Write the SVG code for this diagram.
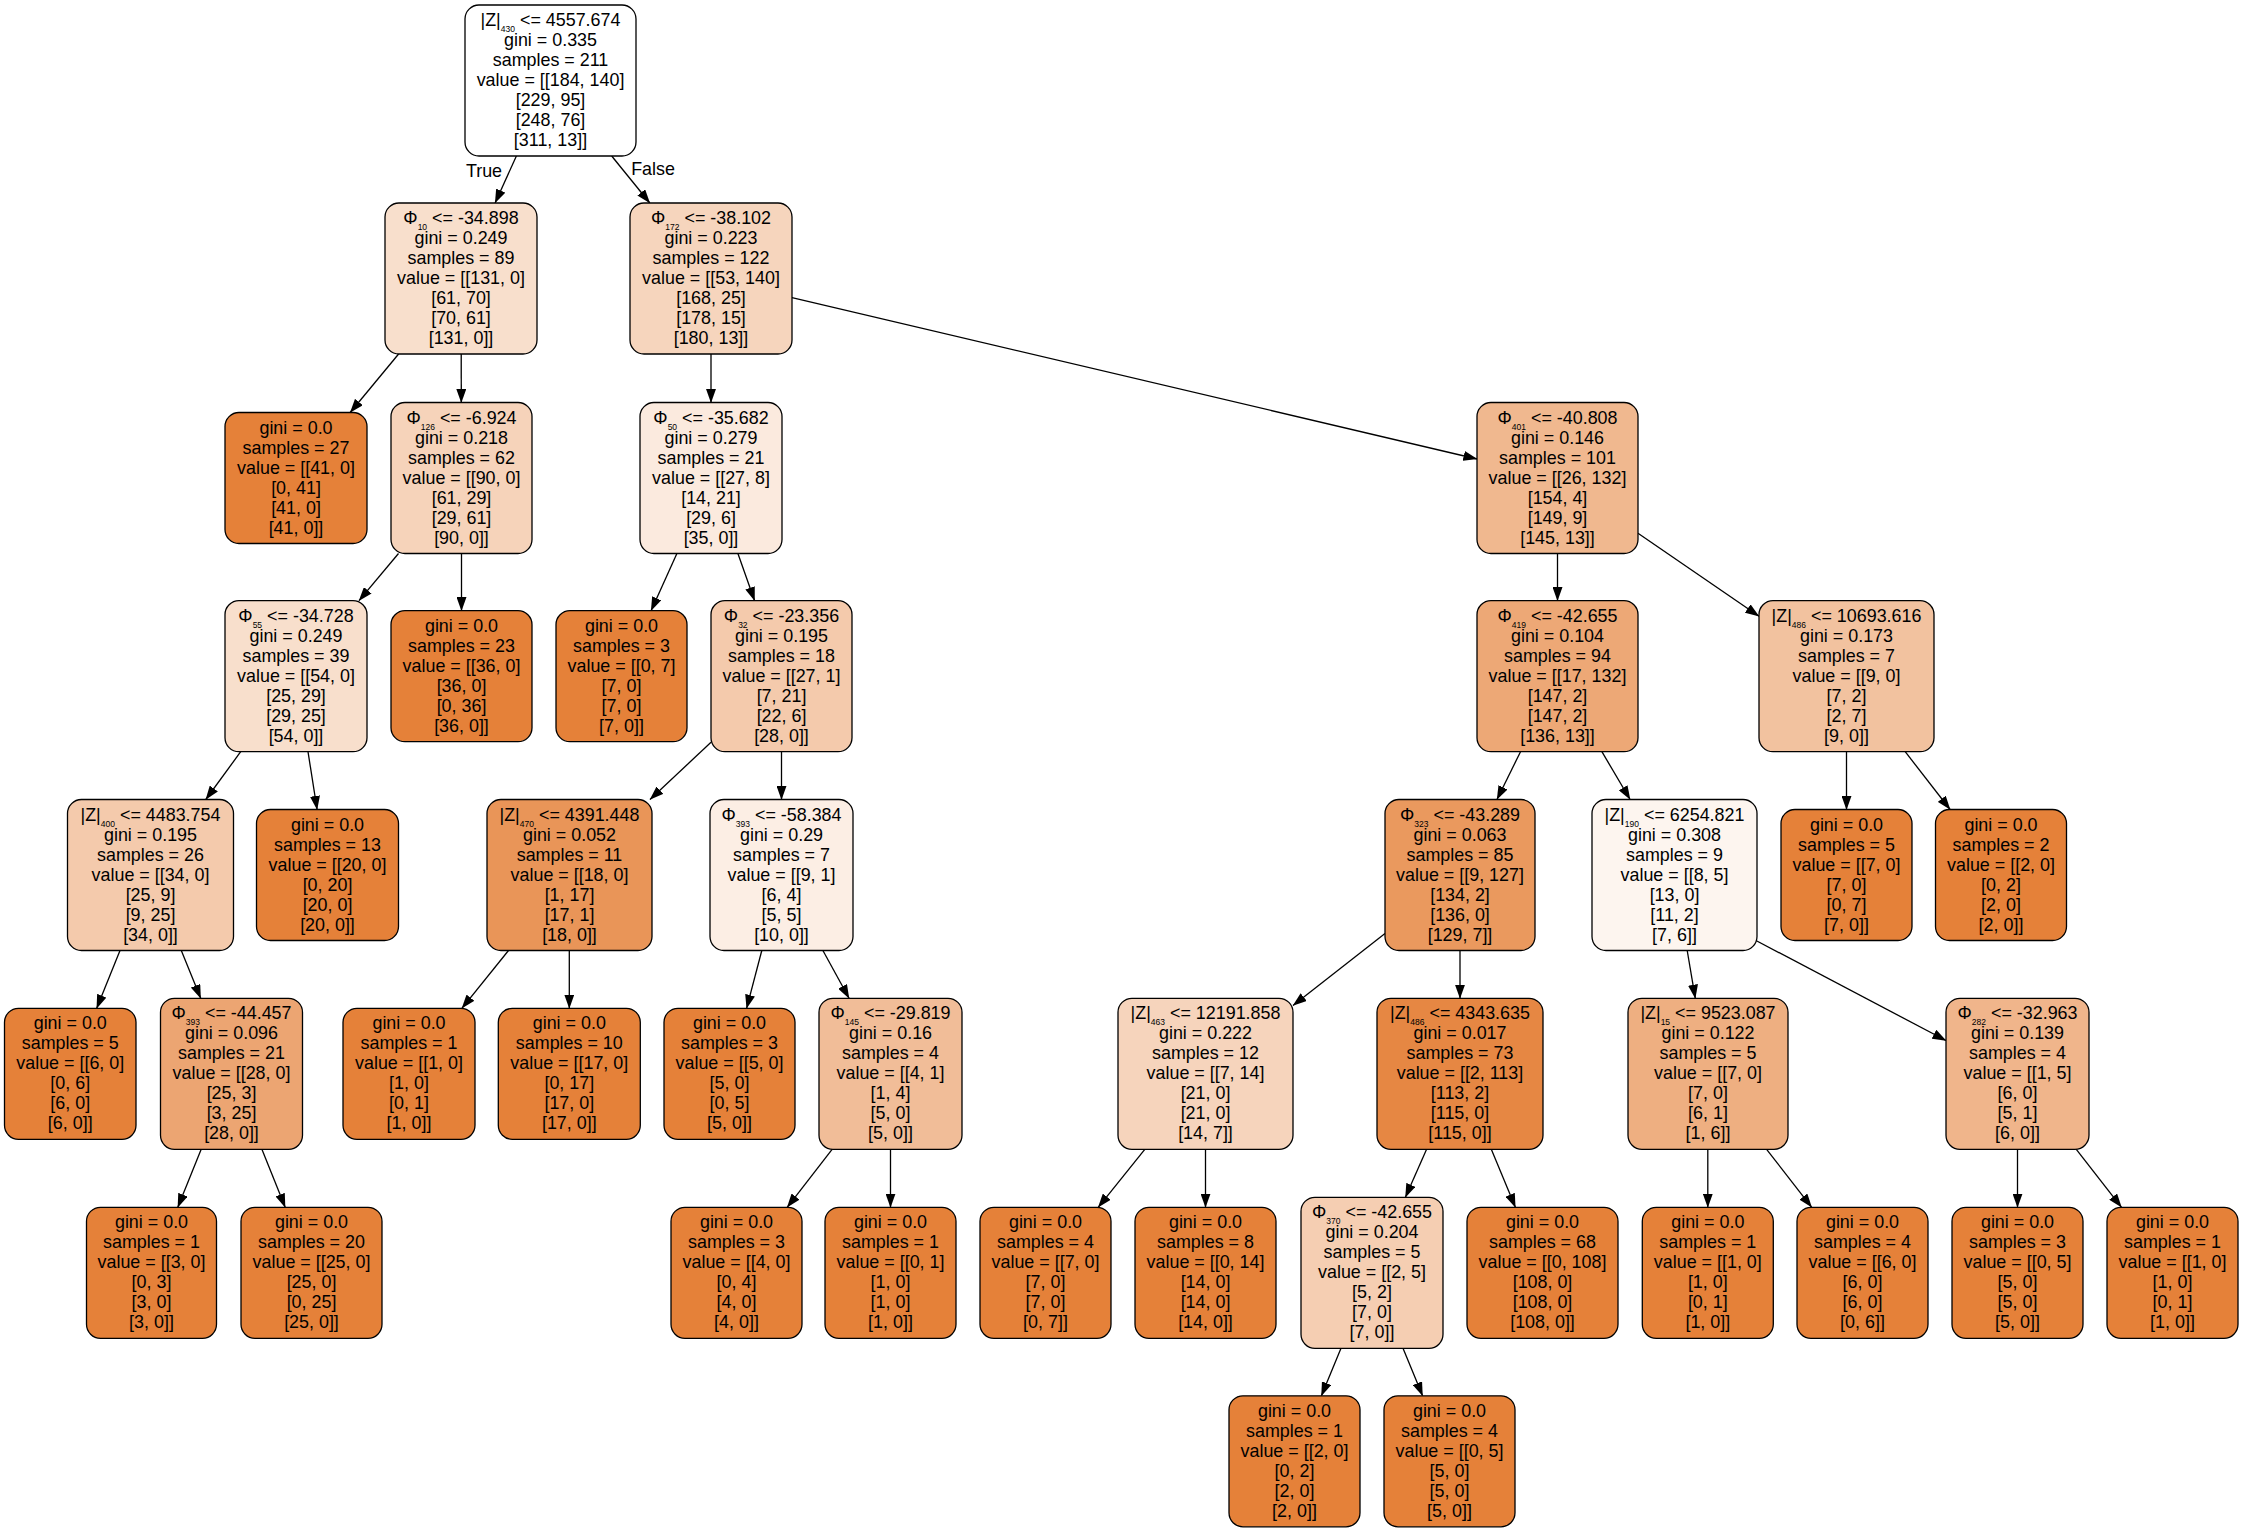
<svg xmlns="http://www.w3.org/2000/svg" width="2243" height="1532" viewBox="0 0 2243 1532">
<style>
.n rect{stroke:#000;stroke-width:1.3}
.n text,.lbl{font-family:"Liberation Sans",Arial,Helvetica,sans-serif;font-size:17.9px;fill:#000;text-anchor:middle}
.leaf rect{fill:#e58139}
.s{font-size:8.5px}
.e{stroke:#000;stroke-width:1.3;fill:none;marker-end:url(#arr)}
</style>
<defs>
<marker id="arr" markerUnits="userSpaceOnUse" viewBox="0 0 14 10" markerWidth="14" markerHeight="10" refX="13.6" refY="5" orient="auto"><path d="M0,0 L14,5 L0,10 Z" fill="#000"/></marker>
</defs>
<rect width="2243" height="1532" fill="#fff"/>
<g id="connectors">
<line class="e" x1="516.4" y1="156" x2="495.1" y2="203"/>
<line class="e" x1="611.7" y1="156" x2="649.8" y2="203"/>
<line class="e" x1="398.6" y1="354" x2="350.2" y2="412.5"/>
<line class="e" x1="461.2" y1="354" x2="461.3" y2="402.5"/>
<line class="e" x1="398.5" y1="553.5" x2="359" y2="600.7"/>
<line class="e" x1="461.5" y1="553.5" x2="461.5" y2="610.7"/>
<line class="e" x1="240.7" y1="751.7" x2="205.8" y2="799.5"/>
<line class="e" x1="308" y1="751.7" x2="317.1" y2="809.5"/>
<line class="e" x1="120" y1="950.5" x2="96.7" y2="1008.3"/>
<line class="e" x1="181.3" y1="950.5" x2="200.7" y2="998.3"/>
<line class="e" x1="201.2" y1="1149.3" x2="177.8" y2="1207.3"/>
<line class="e" x1="261.9" y1="1149.3" x2="285.2" y2="1207.3"/>
<line class="e" x1="711" y1="354" x2="711" y2="402.5"/>
<line class="e" x1="792" y1="297.6" x2="1477" y2="459"/>
<line class="e" x1="676.9" y1="553.5" x2="651.1" y2="610.7"/>
<line class="e" x1="737.9" y1="553.5" x2="754.6" y2="600.7"/>
<line class="e" x1="1557.5" y1="553.5" x2="1557.5" y2="600.7"/>
<line class="e" x1="1638" y1="533.2" x2="1759" y2="616.2"/>
<line class="e" x1="711" y1="742.3" x2="650" y2="799.5"/>
<line class="e" x1="781.5" y1="751.7" x2="781.5" y2="799.5"/>
<line class="e" x1="1520.5" y1="751.7" x2="1497" y2="799.5"/>
<line class="e" x1="1601.9" y1="751.7" x2="1630.1" y2="799.5"/>
<line class="e" x1="1846.5" y1="751.7" x2="1846.5" y2="809.5"/>
<line class="e" x1="1905.2" y1="751.7" x2="1950.1" y2="809.5"/>
<line class="e" x1="508.5" y1="950.5" x2="461.9" y2="1008.3"/>
<line class="e" x1="569.3" y1="950.5" x2="569.3" y2="1008.3"/>
<line class="e" x1="761.8" y1="950.5" x2="746.6" y2="1008.3"/>
<line class="e" x1="822.9" y1="950.5" x2="849.1" y2="998.3"/>
<line class="e" x1="1385" y1="933.6" x2="1293" y2="1005.5"/>
<line class="e" x1="1460" y1="950.5" x2="1460" y2="998.3"/>
<line class="e" x1="1687.2" y1="950.5" x2="1695.3" y2="998.3"/>
<line class="e" x1="1755" y1="940" x2="1946" y2="1040.5"/>
<line class="e" x1="832.1" y1="1149.3" x2="787.2" y2="1207.3"/>
<line class="e" x1="890.5" y1="1149.3" x2="890.5" y2="1207.3"/>
<line class="e" x1="1144.8" y1="1149.3" x2="1098.2" y2="1207.3"/>
<line class="e" x1="1205.5" y1="1149.3" x2="1205.5" y2="1207.3"/>
<line class="e" x1="1426.6" y1="1149.3" x2="1405.4" y2="1197.3"/>
<line class="e" x1="1491.3" y1="1149.3" x2="1515.4" y2="1207.3"/>
<line class="e" x1="1707.8" y1="1149.3" x2="1707.8" y2="1207.3"/>
<line class="e" x1="1766.6" y1="1149.3" x2="1811.7" y2="1207.3"/>
<line class="e" x1="2017.5" y1="1149.3" x2="2017.5" y2="1207.3"/>
<line class="e" x1="2076.3" y1="1149.3" x2="2121.5" y2="1207.3"/>
<line class="e" x1="1341" y1="1348.3" x2="1321.4" y2="1395.8"/>
<line class="e" x1="1403" y1="1348.3" x2="1422.6" y2="1395.8"/>
<text class="lbl" x="484" y="177">True</text>
<text class="lbl" x="653" y="175">False</text>
</g>
<g id="n0" class="n"><rect x="465" y="5" width="171" height="151" rx="14" fill="#ffffff"/><text x="550.5" y="26">|Z|<tspan class="s" dy="6">430</tspan><tspan dy="-6"> &lt;= 4557.674</tspan><tspan x="550.5" dy="20">gini = 0.335</tspan><tspan x="550.5" dy="20">samples = 211</tspan><tspan x="550.5" dy="20">value = [[184, 140]</tspan><tspan x="550.5" dy="20">[229, 95]</tspan><tspan x="550.5" dy="20">[248, 76]</tspan><tspan x="550.5" dy="20">[311, 13]]</tspan></text></g>
<g id="n1" class="n"><rect x="385" y="203" width="152" height="151" rx="14" fill="#f8dfcc"/><text x="461" y="224">Φ<tspan class="s" dy="6">10</tspan><tspan dy="-6"> &lt;= -34.898</tspan><tspan x="461" dy="20">gini = 0.249</tspan><tspan x="461" dy="20">samples = 89</tspan><tspan x="461" dy="20">value = [[131, 0]</tspan><tspan x="461" dy="20">[61, 70]</tspan><tspan x="461" dy="20">[70, 61]</tspan><tspan x="461" dy="20">[131, 0]]</tspan></text></g>
<g id="n12" class="n"><rect x="630" y="203" width="162" height="151" rx="14" fill="#f6d5bd"/><text x="711" y="224">Φ<tspan class="s" dy="6">172</tspan><tspan dy="-6"> &lt;= -38.102</tspan><tspan x="711" dy="20">gini = 0.223</tspan><tspan x="711" dy="20">samples = 122</tspan><tspan x="711" dy="20">value = [[53, 140]</tspan><tspan x="711" dy="20">[168, 25]</tspan><tspan x="711" dy="20">[178, 15]</tspan><tspan x="711" dy="20">[180, 13]]</tspan></text></g>
<g id="n2" class="n leaf"><rect x="225" y="412.5" width="142" height="131" rx="14"/><text x="296" y="433.5">gini = 0.0<tspan x="296" dy="20">samples = 27</tspan><tspan x="296" dy="20">value = [[41, 0]</tspan><tspan x="296" dy="20">[0, 41]</tspan><tspan x="296" dy="20">[41, 0]</tspan><tspan x="296" dy="20">[41, 0]]</tspan></text></g>
<g id="n3" class="n"><rect x="391" y="402.5" width="141" height="151" rx="14" fill="#f6d3ba"/><text x="461.5" y="423.5">Φ<tspan class="s" dy="6">126</tspan><tspan dy="-6"> &lt;= -6.924</tspan><tspan x="461.5" dy="20">gini = 0.218</tspan><tspan x="461.5" dy="20">samples = 62</tspan><tspan x="461.5" dy="20">value = [[90, 0]</tspan><tspan x="461.5" dy="20">[61, 29]</tspan><tspan x="461.5" dy="20">[29, 61]</tspan><tspan x="461.5" dy="20">[90, 0]]</tspan></text></g>
<g id="n13" class="n"><rect x="640" y="402.5" width="142" height="151" rx="14" fill="#fbeade"/><text x="711" y="423.5">Φ<tspan class="s" dy="6">50</tspan><tspan dy="-6"> &lt;= -35.682</tspan><tspan x="711" dy="20">gini = 0.279</tspan><tspan x="711" dy="20">samples = 21</tspan><tspan x="711" dy="20">value = [[27, 8]</tspan><tspan x="711" dy="20">[14, 21]</tspan><tspan x="711" dy="20">[29, 6]</tspan><tspan x="711" dy="20">[35, 0]]</tspan></text></g>
<g id="n24" class="n"><rect x="1477" y="402.5" width="161" height="151" rx="14" fill="#f0b88f"/><text x="1557.5" y="423.5">Φ<tspan class="s" dy="6">401</tspan><tspan dy="-6"> &lt;= -40.808</tspan><tspan x="1557.5" dy="20">gini = 0.146</tspan><tspan x="1557.5" dy="20">samples = 101</tspan><tspan x="1557.5" dy="20">value = [[26, 132]</tspan><tspan x="1557.5" dy="20">[154, 4]</tspan><tspan x="1557.5" dy="20">[149, 9]</tspan><tspan x="1557.5" dy="20">[145, 13]]</tspan></text></g>
<g id="n4" class="n"><rect x="225" y="600.7" width="142" height="151" rx="14" fill="#f8dfcc"/><text x="296" y="621.7">Φ<tspan class="s" dy="6">55</tspan><tspan dy="-6"> &lt;= -34.728</tspan><tspan x="296" dy="20">gini = 0.249</tspan><tspan x="296" dy="20">samples = 39</tspan><tspan x="296" dy="20">value = [[54, 0]</tspan><tspan x="296" dy="20">[25, 29]</tspan><tspan x="296" dy="20">[29, 25]</tspan><tspan x="296" dy="20">[54, 0]]</tspan></text></g>
<g id="n11" class="n leaf"><rect x="391" y="610.7" width="141" height="131" rx="14"/><text x="461.5" y="631.7">gini = 0.0<tspan x="461.5" dy="20">samples = 23</tspan><tspan x="461.5" dy="20">value = [[36, 0]</tspan><tspan x="461.5" dy="20">[36, 0]</tspan><tspan x="461.5" dy="20">[0, 36]</tspan><tspan x="461.5" dy="20">[36, 0]]</tspan></text></g>
<g id="n14" class="n leaf"><rect x="556" y="610.7" width="131" height="131" rx="14"/><text x="621.5" y="631.7">gini = 0.0<tspan x="621.5" dy="20">samples = 3</tspan><tspan x="621.5" dy="20">value = [[0, 7]</tspan><tspan x="621.5" dy="20">[7, 0]</tspan><tspan x="621.5" dy="20">[7, 0]</tspan><tspan x="621.5" dy="20">[7, 0]]</tspan></text></g>
<g id="n15" class="n"><rect x="711" y="600.7" width="141" height="151" rx="14" fill="#f4caac"/><text x="781.5" y="621.7">Φ<tspan class="s" dy="6">32</tspan><tspan dy="-6"> &lt;= -23.356</tspan><tspan x="781.5" dy="20">gini = 0.195</tspan><tspan x="781.5" dy="20">samples = 18</tspan><tspan x="781.5" dy="20">value = [[27, 1]</tspan><tspan x="781.5" dy="20">[7, 21]</tspan><tspan x="781.5" dy="20">[22, 6]</tspan><tspan x="781.5" dy="20">[28, 0]]</tspan></text></g>
<g id="n25" class="n"><rect x="1477" y="600.7" width="161" height="151" rx="14" fill="#eda876"/><text x="1557.5" y="621.7">Φ<tspan class="s" dy="6">419</tspan><tspan dy="-6"> &lt;= -42.655</tspan><tspan x="1557.5" dy="20">gini = 0.104</tspan><tspan x="1557.5" dy="20">samples = 94</tspan><tspan x="1557.5" dy="20">value = [[17, 132]</tspan><tspan x="1557.5" dy="20">[147, 2]</tspan><tspan x="1557.5" dy="20">[147, 2]</tspan><tspan x="1557.5" dy="20">[136, 13]]</tspan></text></g>
<g id="n42" class="n"><rect x="1759" y="600.7" width="175" height="151" rx="14" fill="#f2c29f"/><text x="1846.5" y="621.7">|Z|<tspan class="s" dy="6">486</tspan><tspan dy="-6"> &lt;= 10693.616</tspan><tspan x="1846.5" dy="20">gini = 0.173</tspan><tspan x="1846.5" dy="20">samples = 7</tspan><tspan x="1846.5" dy="20">value = [[9, 0]</tspan><tspan x="1846.5" dy="20">[7, 2]</tspan><tspan x="1846.5" dy="20">[2, 7]</tspan><tspan x="1846.5" dy="20">[9, 0]]</tspan></text></g>
<g id="n5" class="n"><rect x="67.5" y="799.5" width="166" height="151" rx="14" fill="#f4caac"/><text x="150.5" y="820.5">|Z|<tspan class="s" dy="6">400</tspan><tspan dy="-6"> &lt;= 4483.754</tspan><tspan x="150.5" dy="20">gini = 0.195</tspan><tspan x="150.5" dy="20">samples = 26</tspan><tspan x="150.5" dy="20">value = [[34, 0]</tspan><tspan x="150.5" dy="20">[25, 9]</tspan><tspan x="150.5" dy="20">[9, 25]</tspan><tspan x="150.5" dy="20">[34, 0]]</tspan></text></g>
<g id="n10" class="n leaf"><rect x="256.5" y="809.5" width="142" height="131" rx="14"/><text x="327.5" y="830.5">gini = 0.0<tspan x="327.5" dy="20">samples = 13</tspan><tspan x="327.5" dy="20">value = [[20, 0]</tspan><tspan x="327.5" dy="20">[0, 20]</tspan><tspan x="327.5" dy="20">[20, 0]</tspan><tspan x="327.5" dy="20">[20, 0]]</tspan></text></g>
<g id="n16" class="n"><rect x="487" y="799.5" width="165" height="151" rx="14" fill="#e99558"/><text x="569.5" y="820.5">|Z|<tspan class="s" dy="6">470</tspan><tspan dy="-6"> &lt;= 4391.448</tspan><tspan x="569.5" dy="20">gini = 0.052</tspan><tspan x="569.5" dy="20">samples = 11</tspan><tspan x="569.5" dy="20">value = [[18, 0]</tspan><tspan x="569.5" dy="20">[1, 17]</tspan><tspan x="569.5" dy="20">[17, 1]</tspan><tspan x="569.5" dy="20">[18, 0]]</tspan></text></g>
<g id="n19" class="n"><rect x="710" y="799.5" width="143" height="151" rx="14" fill="#fceee4"/><text x="781.5" y="820.5">Φ<tspan class="s" dy="6">393</tspan><tspan dy="-6"> &lt;= -58.384</tspan><tspan x="781.5" dy="20">gini = 0.29</tspan><tspan x="781.5" dy="20">samples = 7</tspan><tspan x="781.5" dy="20">value = [[9, 1]</tspan><tspan x="781.5" dy="20">[6, 4]</tspan><tspan x="781.5" dy="20">[5, 5]</tspan><tspan x="781.5" dy="20">[10, 0]]</tspan></text></g>
<g id="n26" class="n"><rect x="1385" y="799.5" width="150" height="151" rx="14" fill="#ea995e"/><text x="1460" y="820.5">Φ<tspan class="s" dy="6">323</tspan><tspan dy="-6"> &lt;= -43.289</tspan><tspan x="1460" dy="20">gini = 0.063</tspan><tspan x="1460" dy="20">samples = 85</tspan><tspan x="1460" dy="20">value = [[9, 127]</tspan><tspan x="1460" dy="20">[134, 2]</tspan><tspan x="1460" dy="20">[136, 0]</tspan><tspan x="1460" dy="20">[129, 7]]</tspan></text></g>
<g id="n35" class="n"><rect x="1592" y="799.5" width="165" height="151" rx="14" fill="#fdf5ef"/><text x="1674.5" y="820.5">|Z|<tspan class="s" dy="6">190</tspan><tspan dy="-6"> &lt;= 6254.821</tspan><tspan x="1674.5" dy="20">gini = 0.308</tspan><tspan x="1674.5" dy="20">samples = 9</tspan><tspan x="1674.5" dy="20">value = [[8, 5]</tspan><tspan x="1674.5" dy="20">[13, 0]</tspan><tspan x="1674.5" dy="20">[11, 2]</tspan><tspan x="1674.5" dy="20">[7, 6]]</tspan></text></g>
<g id="n43" class="n leaf"><rect x="1781" y="809.5" width="131" height="131" rx="14"/><text x="1846.5" y="830.5">gini = 0.0<tspan x="1846.5" dy="20">samples = 5</tspan><tspan x="1846.5" dy="20">value = [[7, 0]</tspan><tspan x="1846.5" dy="20">[7, 0]</tspan><tspan x="1846.5" dy="20">[0, 7]</tspan><tspan x="1846.5" dy="20">[7, 0]]</tspan></text></g>
<g id="n44" class="n leaf"><rect x="1935.5" y="809.5" width="131" height="131" rx="14"/><text x="2001" y="830.5">gini = 0.0<tspan x="2001" dy="20">samples = 2</tspan><tspan x="2001" dy="20">value = [[2, 0]</tspan><tspan x="2001" dy="20">[0, 2]</tspan><tspan x="2001" dy="20">[2, 0]</tspan><tspan x="2001" dy="20">[2, 0]]</tspan></text></g>
<g id="n6" class="n leaf"><rect x="4.5" y="1008.3" width="131.5" height="131" rx="14"/><text x="70.25" y="1029.3">gini = 0.0<tspan x="70.25" dy="20">samples = 5</tspan><tspan x="70.25" dy="20">value = [[6, 0]</tspan><tspan x="70.25" dy="20">[0, 6]</tspan><tspan x="70.25" dy="20">[6, 0]</tspan><tspan x="70.25" dy="20">[6, 0]]</tspan></text></g>
<g id="n7" class="n"><rect x="160.5" y="998.3" width="142" height="151" rx="14" fill="#eca572"/><text x="231.5" y="1019.3">Φ<tspan class="s" dy="6">393</tspan><tspan dy="-6"> &lt;= -44.457</tspan><tspan x="231.5" dy="20">gini = 0.096</tspan><tspan x="231.5" dy="20">samples = 21</tspan><tspan x="231.5" dy="20">value = [[28, 0]</tspan><tspan x="231.5" dy="20">[25, 3]</tspan><tspan x="231.5" dy="20">[3, 25]</tspan><tspan x="231.5" dy="20">[28, 0]]</tspan></text></g>
<g id="n17" class="n leaf"><rect x="343" y="1008.3" width="132" height="131" rx="14"/><text x="409" y="1029.3">gini = 0.0<tspan x="409" dy="20">samples = 1</tspan><tspan x="409" dy="20">value = [[1, 0]</tspan><tspan x="409" dy="20">[1, 0]</tspan><tspan x="409" dy="20">[0, 1]</tspan><tspan x="409" dy="20">[1, 0]]</tspan></text></g>
<g id="n18" class="n leaf"><rect x="498.3" y="1008.3" width="142" height="131" rx="14"/><text x="569.3" y="1029.3">gini = 0.0<tspan x="569.3" dy="20">samples = 10</tspan><tspan x="569.3" dy="20">value = [[17, 0]</tspan><tspan x="569.3" dy="20">[0, 17]</tspan><tspan x="569.3" dy="20">[17, 0]</tspan><tspan x="569.3" dy="20">[17, 0]]</tspan></text></g>
<g id="n20" class="n leaf"><rect x="664" y="1008.3" width="131" height="131" rx="14"/><text x="729.5" y="1029.3">gini = 0.0<tspan x="729.5" dy="20">samples = 3</tspan><tspan x="729.5" dy="20">value = [[5, 0]</tspan><tspan x="729.5" dy="20">[5, 0]</tspan><tspan x="729.5" dy="20">[0, 5]</tspan><tspan x="729.5" dy="20">[5, 0]]</tspan></text></g>
<g id="n21" class="n"><rect x="819" y="998.3" width="143" height="151" rx="14" fill="#f1bd98"/><text x="890.5" y="1019.3">Φ<tspan class="s" dy="6">145</tspan><tspan dy="-6"> &lt;= -29.819</tspan><tspan x="890.5" dy="20">gini = 0.16</tspan><tspan x="890.5" dy="20">samples = 4</tspan><tspan x="890.5" dy="20">value = [[4, 1]</tspan><tspan x="890.5" dy="20">[1, 4]</tspan><tspan x="890.5" dy="20">[5, 0]</tspan><tspan x="890.5" dy="20">[5, 0]]</tspan></text></g>
<g id="n27" class="n"><rect x="1118" y="998.3" width="175" height="151" rx="14" fill="#f6d4bc"/><text x="1205.5" y="1019.3">|Z|<tspan class="s" dy="6">463</tspan><tspan dy="-6"> &lt;= 12191.858</tspan><tspan x="1205.5" dy="20">gini = 0.222</tspan><tspan x="1205.5" dy="20">samples = 12</tspan><tspan x="1205.5" dy="20">value = [[7, 14]</tspan><tspan x="1205.5" dy="20">[21, 0]</tspan><tspan x="1205.5" dy="20">[21, 0]</tspan><tspan x="1205.5" dy="20">[14, 7]]</tspan></text></g>
<g id="n30" class="n"><rect x="1377" y="998.3" width="166" height="151" rx="14" fill="#e68743"/><text x="1460" y="1019.3">|Z|<tspan class="s" dy="6">486</tspan><tspan dy="-6"> &lt;= 4343.635</tspan><tspan x="1460" dy="20">gini = 0.017</tspan><tspan x="1460" dy="20">samples = 73</tspan><tspan x="1460" dy="20">value = [[2, 113]</tspan><tspan x="1460" dy="20">[113, 2]</tspan><tspan x="1460" dy="20">[115, 0]</tspan><tspan x="1460" dy="20">[115, 0]]</tspan></text></g>
<g id="n36" class="n"><rect x="1628" y="998.3" width="160" height="151" rx="14" fill="#eeaf81"/><text x="1708" y="1019.3">|Z|<tspan class="s" dy="6">15</tspan><tspan dy="-6"> &lt;= 9523.087</tspan><tspan x="1708" dy="20">gini = 0.122</tspan><tspan x="1708" dy="20">samples = 5</tspan><tspan x="1708" dy="20">value = [[7, 0]</tspan><tspan x="1708" dy="20">[7, 0]</tspan><tspan x="1708" dy="20">[6, 1]</tspan><tspan x="1708" dy="20">[1, 6]]</tspan></text></g>
<g id="n39" class="n"><rect x="1946" y="998.3" width="143" height="151" rx="14" fill="#f0b58b"/><text x="2017.5" y="1019.3">Φ<tspan class="s" dy="6">282</tspan><tspan dy="-6"> &lt;= -32.963</tspan><tspan x="2017.5" dy="20">gini = 0.139</tspan><tspan x="2017.5" dy="20">samples = 4</tspan><tspan x="2017.5" dy="20">value = [[1, 5]</tspan><tspan x="2017.5" dy="20">[6, 0]</tspan><tspan x="2017.5" dy="20">[5, 1]</tspan><tspan x="2017.5" dy="20">[6, 0]]</tspan></text></g>
<g id="n8" class="n leaf"><rect x="86.5" y="1207.3" width="130" height="131" rx="14"/><text x="151.5" y="1228.3">gini = 0.0<tspan x="151.5" dy="20">samples = 1</tspan><tspan x="151.5" dy="20">value = [[3, 0]</tspan><tspan x="151.5" dy="20">[0, 3]</tspan><tspan x="151.5" dy="20">[3, 0]</tspan><tspan x="151.5" dy="20">[3, 0]]</tspan></text></g>
<g id="n9" class="n leaf"><rect x="241" y="1207.3" width="141" height="131" rx="14"/><text x="311.5" y="1228.3">gini = 0.0<tspan x="311.5" dy="20">samples = 20</tspan><tspan x="311.5" dy="20">value = [[25, 0]</tspan><tspan x="311.5" dy="20">[25, 0]</tspan><tspan x="311.5" dy="20">[0, 25]</tspan><tspan x="311.5" dy="20">[25, 0]]</tspan></text></g>
<g id="n22" class="n leaf"><rect x="671" y="1207.3" width="131" height="131" rx="14"/><text x="736.5" y="1228.3">gini = 0.0<tspan x="736.5" dy="20">samples = 3</tspan><tspan x="736.5" dy="20">value = [[4, 0]</tspan><tspan x="736.5" dy="20">[0, 4]</tspan><tspan x="736.5" dy="20">[4, 0]</tspan><tspan x="736.5" dy="20">[4, 0]]</tspan></text></g>
<g id="n23" class="n leaf"><rect x="825" y="1207.3" width="131" height="131" rx="14"/><text x="890.5" y="1228.3">gini = 0.0<tspan x="890.5" dy="20">samples = 1</tspan><tspan x="890.5" dy="20">value = [[0, 1]</tspan><tspan x="890.5" dy="20">[1, 0]</tspan><tspan x="890.5" dy="20">[1, 0]</tspan><tspan x="890.5" dy="20">[1, 0]]</tspan></text></g>
<g id="n28" class="n leaf"><rect x="980" y="1207.3" width="131" height="131" rx="14"/><text x="1045.5" y="1228.3">gini = 0.0<tspan x="1045.5" dy="20">samples = 4</tspan><tspan x="1045.5" dy="20">value = [[7, 0]</tspan><tspan x="1045.5" dy="20">[7, 0]</tspan><tspan x="1045.5" dy="20">[7, 0]</tspan><tspan x="1045.5" dy="20">[0, 7]]</tspan></text></g>
<g id="n29" class="n leaf"><rect x="1135" y="1207.3" width="141" height="131" rx="14"/><text x="1205.5" y="1228.3">gini = 0.0<tspan x="1205.5" dy="20">samples = 8</tspan><tspan x="1205.5" dy="20">value = [[0, 14]</tspan><tspan x="1205.5" dy="20">[14, 0]</tspan><tspan x="1205.5" dy="20">[14, 0]</tspan><tspan x="1205.5" dy="20">[14, 0]]</tspan></text></g>
<g id="n31" class="n"><rect x="1301" y="1197.3" width="142" height="151" rx="14" fill="#f5ceb2"/><text x="1372" y="1218.3">Φ<tspan class="s" dy="6">370</tspan><tspan dy="-6"> &lt;= -42.655</tspan><tspan x="1372" dy="20">gini = 0.204</tspan><tspan x="1372" dy="20">samples = 5</tspan><tspan x="1372" dy="20">value = [[2, 5]</tspan><tspan x="1372" dy="20">[5, 2]</tspan><tspan x="1372" dy="20">[7, 0]</tspan><tspan x="1372" dy="20">[7, 0]]</tspan></text></g>
<g id="n34" class="n leaf"><rect x="1467" y="1207.3" width="151" height="131" rx="14"/><text x="1542.5" y="1228.3">gini = 0.0<tspan x="1542.5" dy="20">samples = 68</tspan><tspan x="1542.5" dy="20">value = [[0, 108]</tspan><tspan x="1542.5" dy="20">[108, 0]</tspan><tspan x="1542.5" dy="20">[108, 0]</tspan><tspan x="1542.5" dy="20">[108, 0]]</tspan></text></g>
<g id="n37" class="n leaf"><rect x="1642.3" y="1207.3" width="131" height="131" rx="14"/><text x="1707.8" y="1228.3">gini = 0.0<tspan x="1707.8" dy="20">samples = 1</tspan><tspan x="1707.8" dy="20">value = [[1, 0]</tspan><tspan x="1707.8" dy="20">[1, 0]</tspan><tspan x="1707.8" dy="20">[0, 1]</tspan><tspan x="1707.8" dy="20">[1, 0]]</tspan></text></g>
<g id="n38" class="n leaf"><rect x="1797" y="1207.3" width="131" height="131" rx="14"/><text x="1862.5" y="1228.3">gini = 0.0<tspan x="1862.5" dy="20">samples = 4</tspan><tspan x="1862.5" dy="20">value = [[6, 0]</tspan><tspan x="1862.5" dy="20">[6, 0]</tspan><tspan x="1862.5" dy="20">[6, 0]</tspan><tspan x="1862.5" dy="20">[0, 6]]</tspan></text></g>
<g id="n40" class="n leaf"><rect x="1952" y="1207.3" width="131" height="131" rx="14"/><text x="2017.5" y="1228.3">gini = 0.0<tspan x="2017.5" dy="20">samples = 3</tspan><tspan x="2017.5" dy="20">value = [[0, 5]</tspan><tspan x="2017.5" dy="20">[5, 0]</tspan><tspan x="2017.5" dy="20">[5, 0]</tspan><tspan x="2017.5" dy="20">[5, 0]]</tspan></text></g>
<g id="n41" class="n leaf"><rect x="2107" y="1207.3" width="131" height="131" rx="14"/><text x="2172.5" y="1228.3">gini = 0.0<tspan x="2172.5" dy="20">samples = 1</tspan><tspan x="2172.5" dy="20">value = [[1, 0]</tspan><tspan x="2172.5" dy="20">[1, 0]</tspan><tspan x="2172.5" dy="20">[0, 1]</tspan><tspan x="2172.5" dy="20">[1, 0]]</tspan></text></g>
<g id="n32" class="n leaf"><rect x="1229" y="1395.8" width="131" height="131" rx="14"/><text x="1294.5" y="1416.8">gini = 0.0<tspan x="1294.5" dy="20">samples = 1</tspan><tspan x="1294.5" dy="20">value = [[2, 0]</tspan><tspan x="1294.5" dy="20">[0, 2]</tspan><tspan x="1294.5" dy="20">[2, 0]</tspan><tspan x="1294.5" dy="20">[2, 0]]</tspan></text></g>
<g id="n33" class="n leaf"><rect x="1384" y="1395.8" width="131" height="131" rx="14"/><text x="1449.5" y="1416.8">gini = 0.0<tspan x="1449.5" dy="20">samples = 4</tspan><tspan x="1449.5" dy="20">value = [[0, 5]</tspan><tspan x="1449.5" dy="20">[5, 0]</tspan><tspan x="1449.5" dy="20">[5, 0]</tspan><tspan x="1449.5" dy="20">[5, 0]]</tspan></text></g>
</svg>
